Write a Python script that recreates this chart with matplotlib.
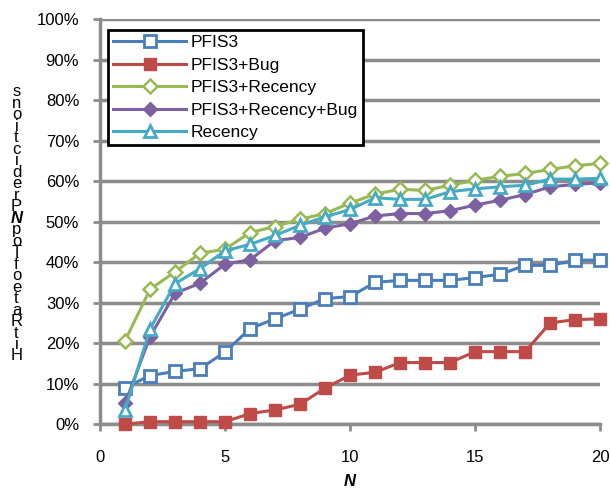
import matplotlib.pyplot as plt
from matplotlib.ticker import MultipleLocator, FuncFormatter

plt.rcParams['font.family'] = ['Liberation Sans', 'DejaVu Sans']

# data (hit rate in %)
n_vals = list(range(1, 21))
pfis3 = [9, 12, 13, 13.7, 17.8, 23.6, 26, 28.4, 31, 31.5, 35, 35.5, 35.5, 35.5, 36.2, 37, 39.2, 39.2, 40.5, 40.5]
pfis3_bug = [0, 0.6, 0.6, 0.6, 0.6, 2.6, 3.5, 4.9, 8.9, 12.1, 12.8, 15.2, 15.2, 15.2, 17.9, 17.9, 17.9, 25, 25.8, 26]
pfis3_rec = [20.6, 33.3, 37.6, 42.2, 43.2, 47.3, 48.8, 50.6, 52, 54.6, 56.8, 58, 57.7, 59, 60.2, 61.2, 61.9, 62.9, 63.8, 64.4]
pfis3_rec_bug = [5.1, 21.6, 32.3, 34.8, 39.5, 40.6, 45.3, 46.1, 48.4, 49.5, 51.4, 52, 52, 52.7, 54.1, 55.3, 56.7, 58.6, 59.2, 59.6]
recency = [3.5, 23.5, 34.7, 38.4, 42.8, 44.4, 46.6, 49.1, 51.2, 53, 55.9, 55.5, 55.5, 57.4, 58.1, 58.6, 59, 60.5, 60.5, 60.7]

labels = ["PFIS3", "PFIS3+Bug", "PFIS3+Recency", "PFIS3+Recency+Bug", "Recency"]
ylabel = "HitRateofTopNPredictions"

grid_col = "#8c8c8c"

fig = plt.figure(figsize=(6.1, 4.92), dpi=100)
ax = fig.add_axes([0.164, 0.138, 0.82, 0.823])

common = dict(lw=2.2, clip_on=False, zorder=3)
ax.plot(n_vals, pfis3, color="#4a7ebb", marker="s", ms=8, mfc="white", mec="#4a7ebb", mew=2, label=labels[0], **common)
ax.plot(n_vals, pfis3_bug, color="#be4b48", marker="s", ms=9, mfc="#be4b48", mec="#be4b48", label=labels[1], **common)
ax.plot(n_vals, pfis3_rec, color="#98b954", marker="D", ms=7, mfc="white", mec="#98b954", mew=1.8, label=labels[2], **common)
ax.plot(n_vals, pfis3_rec_bug, color="#7d60a0", marker="D", ms=7, mfc="#7d60a0", mec="#7d60a0", label=labels[3], **common)
ax.plot(n_vals, recency, color="#46aac5", marker="^", ms=9, mfc="white", mec="#46aac5", mew=2, label=labels[4], **common)

ax.set_xlim(0, 20)
ax.set_ylim(0, 100)
ax.xaxis.set_major_locator(MultipleLocator(5))
ax.yaxis.set_major_locator(MultipleLocator(10))
ax.yaxis.set_major_formatter(FuncFormatter(lambda v, p: "%d%%" % v))
ax.grid(axis="y", color=grid_col, lw=2.5)
ax.set_axisbelow(True)
for s in ["top", "right"]:
    ax.spines[s].set_visible(False)
for s in ["left", "bottom"]:
    ax.spines[s].set_color(grid_col)
    ax.spines[s].set_linewidth(2.5)
ax.tick_params(axis="both", direction="out", length=5, width=2, color=grid_col, labelsize=12)
ax.tick_params(axis="x", pad=14)
ax.tick_params(axis="y", pad=10)

ax.set_xlabel("N", fontsize=12, fontweight="bold", fontstyle="italic", labelpad=6)

# stacked y label, characters upright, reading bottom to top
top, bottom = 1 - 92 / 492, 1 - 356 / 492
step = (top - bottom) / (len(ylabel) - 1)
for i, ch in enumerate(ylabel):
    kw = dict(fontweight="bold", fontstyle="italic") if ch == "N" else {}
    fig.text(0.027, bottom + i * step, ch, fontsize=12, ha="center", va="center", **kw)

leg = ax.legend(loc="upper left", bbox_to_anchor=(0.016, 0.973), fontsize=12.5, frameon=True,
                fancybox=False, edgecolor="black", framealpha=1, handlelength=4.2,
                labelspacing=0.42, borderpad=0.3, handletextpad=0.25, borderaxespad=0)
leg.get_frame().set_linewidth(2)

fig.savefig("out.png", dpi=100)
